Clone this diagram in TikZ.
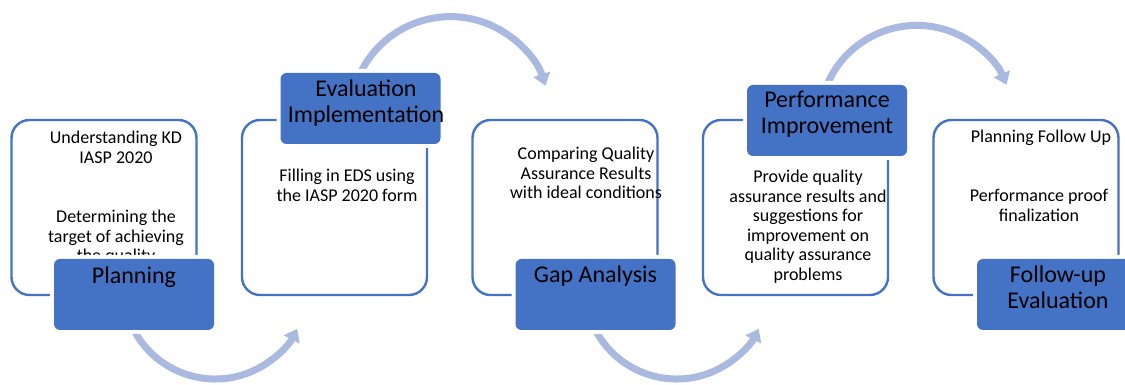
\documentclass[tikz,border=0pt]{standalone}
\usepackage{fontspec}
\setmainfont{Carlito}
\usetikzlibrary{arrows.meta,backgrounds}
\definecolor{accent}{HTML}{4472C4}
\definecolor{arcblue}{RGB}{170,185,224}

\begin{document}
\begin{tikzpicture}[x=1pt,y=1pt,
  main box/.style={draw=accent,line width=2.4pt,fill=white,rounded corners=18pt,minimum width=185pt,minimum height=175pt},
  tab node/.style={fill=accent,rounded corners=6pt,minimum width=160pt,minimum height=71pt,
    preaction={draw=white,line width=8pt}},
  body text/.style={align=center,anchor=base,inner sep=0pt,font=\fontsize{18}{19.5}\selectfont},
  tab text/.style={align=center,anchor=base,inner sep=0pt,font=\fontsize{24}{26}\selectfont},
  flow/.style={draw=arcblue,line width=7pt,-{Triangle[width=17pt,length=12pt]}}]

  \useasboundingbox (0,0) rectangle (1125,385);
  \clip (0,0) rectangle (1125,385);

  \node[main box] (b1) at (104,177.5)   {};
  \node[main box] (b2) at (334.5,177.5) {};
  \node[main box] (b3) at (565,177.5)   {};
  \node[main box] (b4) at (795.5,177.5) {};
  \node[main box] (b5) at (1026,177.5)  {};

  % base anchor sits on the last line
  \node[body text] (b1a) at (116,221.5) {Understanding KD\\IASP 2020};
  \node[body text] (b1b) at (116,123)   {Determining the\\target of achieving\\the quality};
  \node[body text] (b2a) at (347,183.5) {Filling in EDS using\\the IASP 2020 form};
  \node[body text] (b3a) at (586,186)   {Comparing Quality\\Assurance Results\\with ideal conditions};
  \node[body text] (b4a) at (808,104.5) {Provide quality\\assurance results and\\suggestions for\\improvement on\\quality assurance\\problems};
  \node[body text] (b5a) at (1041,242)  {Planning Follow Up};
  \node[body text] (b5b) at (1039,163.5) {Performance proof\\finalization};

  \node[tab node] (t1) at (134,90.5)    {};
  \node[tab node] (t2) at (360.5,276.5) {};
  \node[tab node] (t3) at (595.5,90.5)  {};
  \node[tab node] (t4) at (827,264.5)   {};
  \node[tab node] (t5) at (1057,90.5)   {};

  \node[tab text] (l1) at (134,101)   {Planning};
  \node[tab text] (l2) at (366,262)   {Evaluation\\Implementation};
  \node[tab text] (l3) at (595.5,102) {Gap Analysis};
  \node[tab text] (l4) at (827,251)   {Performance\\Improvement};
  \node[tab text] (l5) at (1058,76)   {Follow-up\\Evaluation};

  \begin{scope}[on background layer]
    \draw[flow] (t1.south) arc[start angle=208,end angle=333,radius=92];
    \draw[flow] (t2.north) arc[start angle=154,end angle=18,radius=100];
    \draw[flow] (t3.south) arc[start angle=208,end angle=333,radius=92];
    \draw[flow] (t4.north) arc[start angle=157,end angle=23,radius=97.5];
  \end{scope}
\end{tikzpicture}
\end{document}
